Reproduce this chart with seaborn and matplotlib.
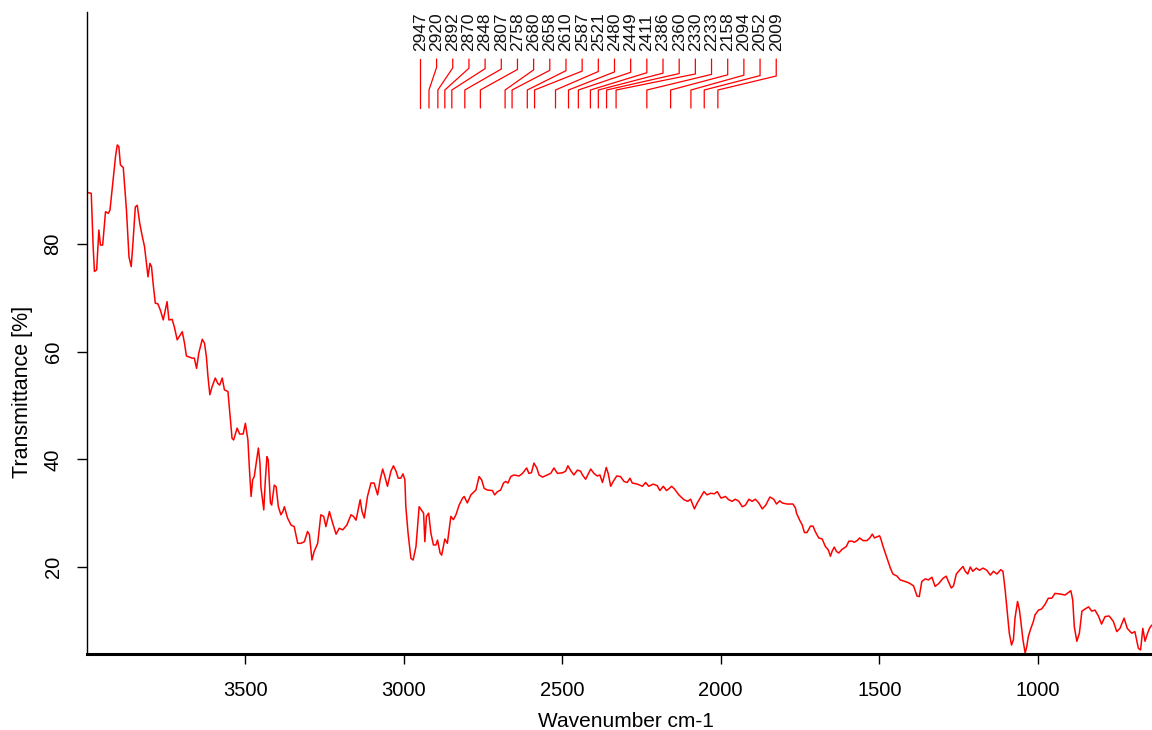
import numpy as np
import pandas as pd
import matplotlib
matplotlib.use("Agg")
import matplotlib.pyplot as plt
import seaborn as sns

# ---------------- data ----------------
wavenumber = [
    3998, 3985, 3979, 3975, 3968, 3961, 3956, 3949, 3940, 3931, 3926, 3916, 3908, 3903, 3898, 3893,
    3884, 3874, 3866, 3859, 3853, 3846, 3840, 3832, 3824, 3817, 3811, 3806, 3800, 3795, 3790, 3783,
    3775, 3767, 3758, 3746, 3740, 3730, 3723, 3714, 3698, 3691, 3685, 3667, 3660, 3653, 3646, 3635,
    3628, 3622, 3617, 3611, 3604, 3594, 3586, 3580, 3572, 3565, 3554, 3548, 3541, 3536, 3525, 3517,
    3506, 3499, 3491, 3486, 3481, 3476, 3471, 3465, 3458, 3453, 3450, 3441, 3436, 3431, 3427, 3420,
    3416, 3408, 3402, 3395, 3387, 3381, 3376, 3366, 3355, 3345, 3334, 3324, 3313, 3303, 3297, 3289,
    3282, 3271, 3261, 3252, 3245, 3234, 3224, 3213, 3203, 3192, 3179, 3166, 3158, 3150, 3137, 3131,
    3124, 3114, 3103, 3093, 3082, 3074, 3066, 3059, 3051, 3040, 3032, 3024, 3017, 3009, 3002, 2996,
    2993, 2986, 2977, 2970, 2961, 2951, 2937, 2933, 2928, 2921, 2914, 2906, 2898, 2893, 2885, 2880,
    2870, 2862, 2851, 2843, 2835, 2825, 2814, 2809, 2799, 2788, 2772, 2762, 2754, 2746, 2736, 2720,
    2713, 2704, 2694, 2685, 2678, 2671, 2662, 2652, 2636, 2625, 2612, 2605, 2597, 2589, 2580, 2573,
    2562, 2547, 2536, 2526, 2515, 2499, 2489, 2482, 2473, 2463, 2452, 2442, 2436, 2426, 2410, 2400,
    2389, 2381, 2373, 2368, 2361, 2355, 2347, 2339, 2328, 2316, 2305, 2295, 2286, 2279, 2263, 2247,
    2237, 2227, 2213, 2200, 2192, 2181, 2171, 2164, 2155, 2146, 2132, 2116, 2104, 2095, 2083, 2074,
    2062, 2053, 2043, 2032, 2020, 2011, 1999, 1985, 1975, 1964, 1954, 1943, 1932, 1922, 1911, 1901,
    1891, 1880, 1869, 1858, 1845, 1833, 1824, 1814, 1806, 1791, 1772, 1764, 1761, 1751, 1743, 1736,
    1728, 1717, 1709, 1702, 1691, 1680, 1670, 1661, 1654, 1649, 1642, 1635, 1628, 1617, 1604, 1596,
    1586, 1579, 1570, 1562, 1551, 1539, 1530, 1522, 1515, 1507, 1499, 1495, 1488, 1476, 1465, 1457,
    1444, 1434, 1418, 1405, 1392, 1381, 1374, 1366, 1355, 1345, 1334, 1324, 1313, 1299, 1289, 1282,
    1273, 1266, 1257, 1247, 1236, 1229, 1221, 1213, 1205, 1194, 1184, 1173, 1161, 1150, 1140, 1129,
    1117, 1110, 1103, 1098, 1090, 1083, 1077, 1072, 1064, 1058, 1053, 1047, 1040, 1035, 1030, 1022,
    1014, 1009, 998, 988, 977, 967, 956, 946, 932, 914, 896, 890, 885, 877, 869, 861,
    851, 840, 830, 820, 809, 799, 788, 775, 762, 751, 741, 728, 718, 704, 694, 683,
    676, 669, 662, 654, 648, 641,
]
transmittance = [
    89.6, 89.4, 79.5, 74.9, 75.2, 82.6, 79.8, 79.8, 86.0, 85.7, 86.3, 91.9, 96.5, 98.4, 98.1, 94.7,
    94.2, 86.3, 77.6, 75.8, 80.7, 86.9, 87.2, 83.8, 81.4, 79.5, 76.4, 73.9, 76.4, 75.8, 72.7, 69.0,
    68.9, 67.7, 65.9, 69.3, 65.9, 66.0, 64.6, 62.2, 63.7, 61.6, 59.2, 58.8, 58.8, 56.9, 59.7, 62.3,
    61.6, 59.1, 55.4, 52.0, 53.5, 55.1, 54.1, 53.8, 55.1, 52.9, 52.6, 48.6, 43.9, 43.6, 45.8, 44.7,
    44.7, 46.7, 43.6, 38.0, 33.1, 36.2, 36.8, 39.3, 42.1, 39.3, 34.9, 30.6, 36.2, 40.5, 39.9, 31.9,
    31.5, 35.2, 34.9, 31.2, 29.7, 30.3, 31.2, 29.1, 27.8, 27.5, 24.4, 24.4, 24.7, 26.6, 26.0, 21.3,
    22.9, 24.4, 29.7, 29.4, 27.5, 30.3, 28.2, 26.1, 27.2, 26.9, 27.8, 29.7, 29.4, 28.7, 32.5, 30.3,
    29.1, 33.1, 35.6, 35.6, 33.4, 36.2, 38.2, 36.8, 35.0, 37.8, 38.8, 37.8, 36.5, 36.5, 37.3, 36.2,
    31.2, 26.3, 21.6, 21.3, 23.8, 31.2, 30.0, 24.7, 29.4, 30.0, 26.3, 24.1, 24.1, 25.0, 22.6, 22.2,
    25.2, 24.4, 29.4, 28.8, 29.7, 31.5, 32.8, 33.1, 31.9, 33.4, 34.3, 36.8, 36.2, 34.6, 34.3, 34.2,
    33.4, 34.0, 34.3, 35.6, 35.9, 35.6, 36.8, 37.1, 36.9, 37.4, 38.4, 37.4, 37.5, 39.3, 38.4, 37.1,
    36.7, 37.1, 37.4, 38.4, 37.4, 37.5, 37.8, 38.8, 37.9, 37.1, 38.0, 37.8, 37.1, 36.3, 38.2, 37.4,
    36.9, 37.1, 35.7, 36.8, 38.5, 37.4, 35.0, 35.9, 36.9, 36.8, 35.9, 35.7, 36.5, 35.6, 35.4, 35.0,
    35.7, 35.0, 35.4, 35.1, 34.2, 35.0, 34.2, 34.5, 35.0, 34.5, 33.4, 32.5, 32.2, 32.6, 30.8, 31.9,
    33.1, 34.0, 33.4, 33.7, 33.6, 34.0, 32.8, 33.1, 32.5, 32.2, 32.6, 32.2, 31.2, 31.5, 32.6, 32.2,
    32.6, 31.9, 30.8, 31.5, 33.0, 32.6, 31.7, 32.3, 31.9, 31.7, 31.7, 30.9, 30.0, 28.7, 27.8, 26.4,
    26.4, 27.6, 27.6, 26.6, 25.4, 25.2, 23.8, 23.2, 22.0, 22.9, 23.7, 22.9, 22.6, 23.3, 23.8, 24.8,
    24.8, 24.6, 24.9, 25.4, 24.9, 24.9, 25.4, 26.1, 25.4, 25.6, 25.8, 25.2, 23.8, 21.7, 19.8, 18.7,
    18.3, 17.6, 17.3, 17.0, 16.5, 14.6, 14.5, 17.3, 17.8, 17.6, 18.1, 16.4, 16.9, 17.9, 18.3, 17.3,
    16.1, 16.5, 18.7, 19.4, 20.1, 19.2, 18.7, 20.0, 19.2, 19.8, 19.4, 19.8, 19.4, 18.5, 19.2, 18.7,
    19.5, 19.2, 15.7, 12.7, 7.7, 5.5, 6.5, 10.5, 13.6, 12.0, 9.6, 6.5, 4.0, 5.2, 7.1, 8.6,
    9.9, 11.1, 12.0, 12.2, 13.1, 14.2, 14.2, 15.1, 15.0, 14.8, 15.6, 13.9, 8.9, 6.2, 7.7, 11.8,
    12.2, 12.6, 11.8, 12.0, 10.9, 9.4, 10.8, 10.9, 9.9, 8.0, 8.6, 10.5, 8.6, 7.7, 8.0, 4.9,
    4.6, 8.6, 6.2, 7.7, 8.6, 9.2,
]
peak_labels = [2947, 2920, 2892, 2870, 2848, 2807, 2758, 2680, 2658, 2610, 2587, 2521,
               2480, 2449, 2411, 2386, 2360, 2330, 2233, 2158, 2094, 2052, 2009]
x_ticks = [3500, 3000, 2500, 2000, 1500, 1000]
y_ticks = [20, 40, 60, 80]

df = pd.DataFrame({"Wavenumber": wavenumber, "Transmittance": transmittance})

# ---------------- style ----------------
sns.set_style("white")
plt.rcParams["font.family"] = ["Liberation Sans", "DejaVu Sans"]

fig = plt.figure(figsize=(11.52, 7.30), dpi=100)
ax = fig.add_axes([86.5 / 1152, 76 / 730, (1152 - 86.5) / 1152, 642 / 730])

sns.lineplot(data=df, x="Wavenumber", y="Transmittance", ax=ax,
             color="#ff0000", linewidth=1.1, estimator=None, sort=False)

XMAX, XMIN = 4000, 640
YMIN, YMAX = 3.84, 123.1
ax.set_xlim(XMAX, XMIN)
ax.set_ylim(YMIN, YMAX)

# ---------------- peak annotations ----------------
def ypix_to_val(yp):
    return 80 + (244 - yp) / 5.383

y_top = ypix_to_val(59)
y_bot = ypix_to_val(108)
y_knee2 = ypix_to_val(90)
y_text = ypix_to_val(51)
n = len(peak_labels)
label_step = 51.0
for i, pk in enumerate(peak_labels):
    lx = peak_labels[0] - label_step * i
    y_knee1 = ypix_to_val(67 + 9.0 * i / (n - 1))
    ax.plot([lx, lx, pk, pk], [y_top, y_knee1, y_knee2, y_bot],
            color="#ff0000", linewidth=0.9, clip_on=False)
    ax.text(lx, y_text, str(pk), rotation=90, ha="center", va="bottom",
            fontsize=12.5, color="#111111")

# ---------------- axes ----------------
ax.set_xticks(x_ticks)
ax.set_xticklabels([str(t) for t in x_ticks])
ax.set_yticks(y_ticks)
ax.set_yticklabels([str(t) for t in y_ticks], rotation=90, va="center")

ax.tick_params(axis="x", direction="out", length=7.2, width=1.0, pad=12,
               labelsize=14.5, colors="black", bottom=True)
ax.tick_params(axis="y", direction="out", length=7.2, width=1.0, pad=10,
               labelsize=14.5, colors="black", left=True)

ax.set_xlabel("Wavenumber cm-1", fontsize=15, color="black")
ax.set_ylabel("Transmittance [%]", fontsize=15.5, color="black")
ax.xaxis.set_label_coords(0.506, -0.090)
ax.yaxis.set_label_coords(-0.050, 0.408)

for side in ["top", "right"]:
    ax.spines[side].set_visible(False)
ax.spines["left"].set_color("black")
ax.spines["left"].set_linewidth(1.0)
ax.spines["bottom"].set_color("black")
ax.spines["bottom"].set_linewidth(2.2)
ax.grid(False)

fig.savefig("out.png", dpi=100)
